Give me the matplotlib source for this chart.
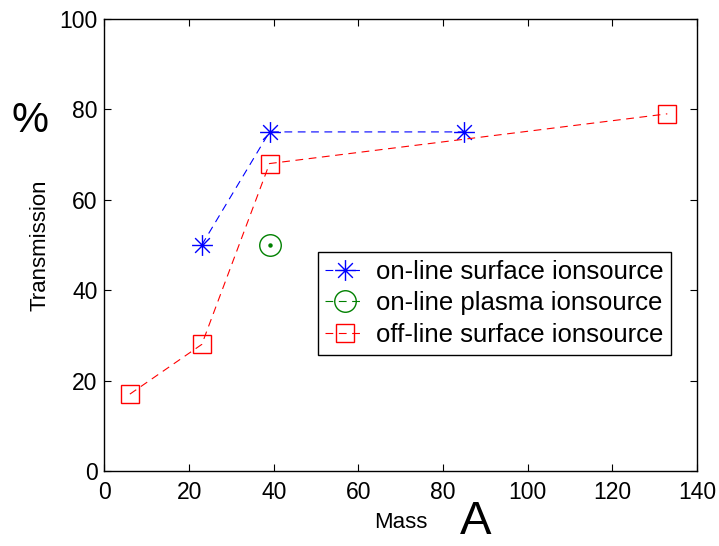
import numpy as np
import matplotlib.pyplot as plt
from matplotlib.path import Path

plt.rcParams['font.family'] = ['Liberation Sans', 'DejaVu Sans']

# transmission (%) versus mass number for each ion source
surf_online_mass = [23, 39, 85]
surf_online_trans = [50, 75, 75]

plasma_online_mass = [39]
plasma_online_trans = [50]

surf_offline_mass = [6, 23, 39, 133]
surf_offline_trans = [17, 28, 68, 79]

xticks = [0, 20, 40, 60, 80, 100, 120, 140]
yticks = [0, 20, 40, 60, 80, 100]

# asterisk marker: horizontal, vertical and two diagonal strokes
d = 0.707
star_path = Path(
    [(-1, 0), (1, 0), (0, -1), (0, 1), (-d, -d), (d, d), (-d, d), (d, -d)],
    [Path.MOVETO, Path.LINETO] * 4,
)

fig = plt.figure(figsize=(7.19, 5.46), dpi=100)
ax = fig.add_axes([0.1453, 0.1374, 0.824, 0.828])

dash = (0, (7, 5))
ax.plot(surf_online_mass, surf_online_trans, color='blue', linestyle=dash, lw=0.8,
        marker=star_path, markersize=15, markerfacecolor='none', markeredgewidth=1.0,
        label='on-line surface ionsource')
ax.plot(plasma_online_mass, plasma_online_trans, color='green', linestyle=dash, lw=0.8,
        marker='o', markersize=15.5, markerfacecolor='none', markeredgewidth=1.0,
        label='on-line plasma ionsource')
ax.plot(plasma_online_mass, plasma_online_trans, color='green', linestyle='none',
        marker='o', markersize=2.2)
ax.plot(surf_offline_mass, surf_offline_trans, color='red', linestyle=dash, lw=0.8,
        marker='s', markersize=13, markerfacecolor='none', markeredgewidth=1.0,
        label='off-line surface ionsource')

ax.set_xlim(0, 140)
ax.set_ylim(0, 100)
ax.set_xticks(xticks)
ax.set_yticks(yticks)
ax.tick_params(direction='in', length=5, width=0.8, labelsize=16.5, pad=5,
               top=True, right=True)
ax.tick_params(axis='x', pad=7)
for s in ax.spines.values():
    s.set_linewidth(1.0)

ax.set_xlabel('Mass', fontsize=16, labelpad=6)
ax.set_ylabel('Transmission', fontsize=16, labelpad=6)
fig.text(0.662, 0.022, 'A', fontsize=34, ha='center', va='baseline')
fig.text(0.042, 0.778, '%', fontsize=30, ha='center', va='center')

leg = ax.legend(loc='center', bbox_to_anchor=(0.658, 0.371), fontsize=18.5,
                fancybox=False, framealpha=1, edgecolor='black',
                handlelength=1.55, handletextpad=0.4, borderpad=0.3,
                labelspacing=0.3, borderaxespad=0)
leg.get_frame().set_linewidth(1.0)

fig.savefig('out.png', dpi=100)
